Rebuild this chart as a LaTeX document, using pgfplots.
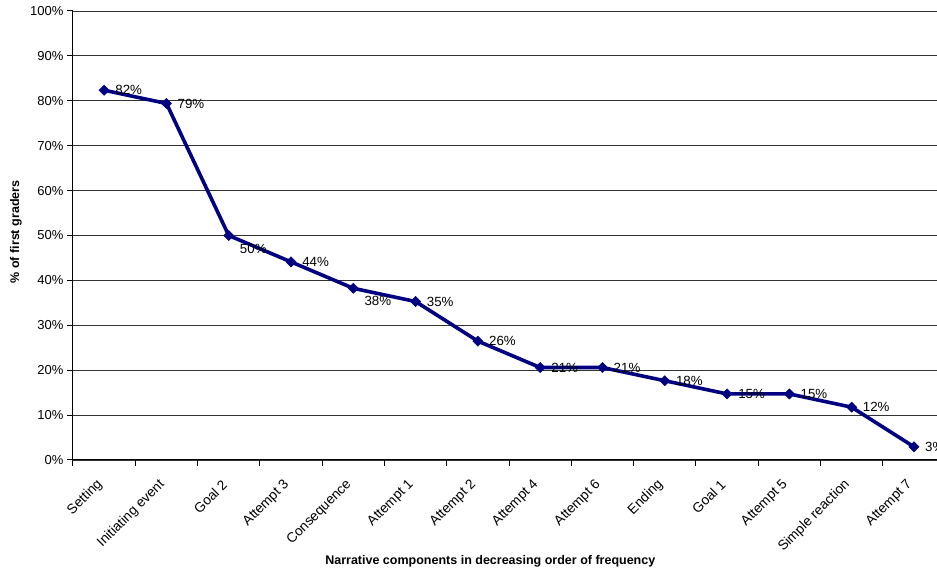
\documentclass[border=0pt]{standalone}
\usepackage{pgfplots}
\pgfplotsset{compat=1.18}
\usepackage{fontspec}
\setmainfont{Liberation Sans}
\usetikzlibrary{calc}
\definecolor{navyline}{HTML}{000080}
\begin{document}
\begin{tikzpicture}
\begin{axis}[name=ax, scale only axis, width=864pt, height=449pt,
  xmin=-0.5, xmax=13.37, ymin=0, ymax=100,
  axis x line*=bottom, axis y line*=left,
  axis line style={black, line width=1pt},
  ytick={0,10,...,100},
  yticklabels={0\%,10\%,20\%,30\%,40\%,50\%,60\%,70\%,80\%,90\%,100\%},
  ymajorgrids, grid style={black!80, line width=0.8pt},
  xtick={0,...,13},
  xticklabels={Setting,Initiating event,Goal 2,Attempt 3,Consequence,Attempt 1,Attempt 2,Attempt 4,Attempt 6,Ending,Goal 1,Attempt 5,Simple reaction,Attempt 7},
  minor xtick={-0.5,0.5,...,13.5},
  major x tick style={draw=none},
  minor x tick style={draw=black, line width=1pt},
  ytick style={draw=black, line width=1pt},
  tick align=outside, major tick length=6pt, minor tick length=6pt,
  ticklabel style={font=\fontsize{13}{15}\selectfont},
  xticklabel style={rotate=45, anchor=east, xshift=-11pt, yshift=-8.8pt, font=\fontsize{13.7}{15}\selectfont},
  xlabel={Narrative components in decreasing order of frequency},
  ylabel={\% of first graders},
  label style={font=\bfseries\fontsize{12.5}{14}\selectfont},
  xlabel style={at={(axis description cs:0.483,-0.225)}, anchor=center},
  ylabel style={at={(axis description cs:-0.066,0.508)}, anchor=center},
]
\addplot[navyline, line width=3.6pt, mark=square*, mark size=3.6pt,
  mark options={fill=navyline, line width=0.5pt, rotate=45},
  nodes near coords, point meta=explicit symbolic,
  visualization depends on={value \thisrow{dy} \as \dy},
  every node near coord/.append style={anchor=west, xshift=11pt, yshift=\dy pt,
    font=\fontsize{13.3}{15}\selectfont, text=black, inner sep=0pt, rotate=0}
] table[x=x, y=y, meta=lab] {
x y lab dy
0 82.35 82\% 0
1 79.41 79\% 0
2 50.00 50\% -13
3 44.12 44\% 0
4 38.24 38\% -13
5 35.29 35\% 0
6 26.47 26\% 0
7 20.59 21\% 0
8 20.59 21\% 0
9 17.65 18\% 0
10 14.71 15\% 0
11 14.71 15\% 0
12 11.76 12\% 0
13 2.94 3\% 0
};
\end{axis}
\pgfresetboundingbox
\useasboundingbox ($(ax.south west)+(-73pt,-114pt)$) rectangle ($(ax.north east)+(0pt,11pt)$);
\end{tikzpicture}
\end{document}
